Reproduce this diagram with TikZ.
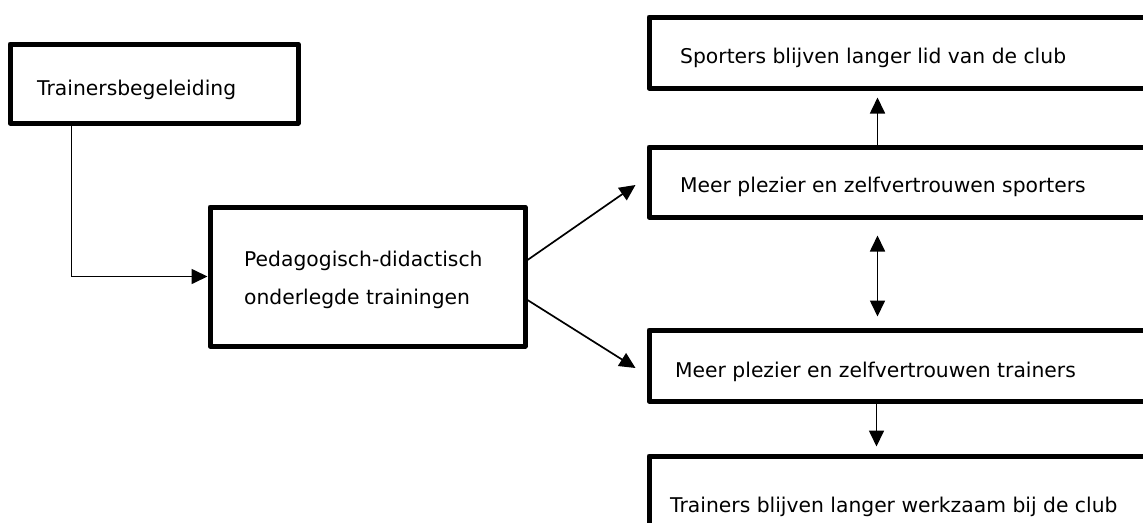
\documentclass[tikz,border=0pt]{standalone}
\usepackage{fontspec}
\setmainfont{DejaVu Sans}
\usetikzlibrary{arrows.meta}
\begin{document}
\begin{tikzpicture}[x=1pt,y=-1pt,
    box/.style={draw,line width=5pt,line join=round,minimum width=#1},
    box/.default=521pt,
    txt/.style={anchor=base west,inner sep=0pt,align=left},
    tip/.tip={Triangle[length=16pt,width=15pt]},
    conn/.style={line width=1.7pt,-tip},
    every node/.style={font=\fontsize{20.3pt}{37.5pt}\selectfont}]
    \clip (0,0) rectangle (1143,522);
    \node [box=288pt,minimum height=79pt] (begel) at (154,83.5) {};
    \node [box=315pt,minimum height=139pt] (peda) at (367.5,276.5) {};
    \node [box,minimum height=71pt] (spA) at (909.5,52.5) {};
    \node [box,minimum height=70pt] (spB) at (909.5,182) {};
    \node [box,minimum height=71pt] (trC) at (909.5,365.5) {};
    \node [box,minimum height=71pt] (trD) at (909.5,491.5) {};
    \node [txt] (begel-t) at (37,95) {Trainersbegeleiding};
    \node [txt,anchor=west] (peda-t) at (244,280) {Pedagogisch-didactisch\\onderlegde trainingen};
    \node [txt] (spA-t) at (680,63) {Sporters blijven langer lid van de club};
    \node [txt] (spB-t) at (680,192) {Meer plezier en zelfvertrouwen sporters};
    \node [txt] (trC-t) at (675,377) {Meer plezier en zelfvertrouwen trainers};
    \node [txt] (trD-t) at (670,512) {Trainers blijven langer werkzaam bij de club};
    % pijlen
    \draw [conn] ([xshift=64pt]begel.south west) |- (peda.west);
    \draw [conn] ([yshift=16.5pt]peda.east) -- ([xshift=-11pt,yshift=-3pt]spB.west);
    \draw [conn] ([yshift=-23.5pt]peda.east) -- ([xshift=-11pt,yshift=-2.5pt]trC.west);
    \draw [conn] ([xshift=231pt]spB.north west) -- ([xshift=231pt,yshift=-7pt]spA.south west);
    \draw [conn,tip-tip] ([xshift=231pt,yshift=-16pt]spB.south west) -- ([xshift=231pt,yshift=11pt]trC.north west);
    \draw [conn] ([xshift=230pt]trC.south west) -- ([xshift=230pt,yshift=7pt]trD.north west);
\end{tikzpicture}
\end{document}
